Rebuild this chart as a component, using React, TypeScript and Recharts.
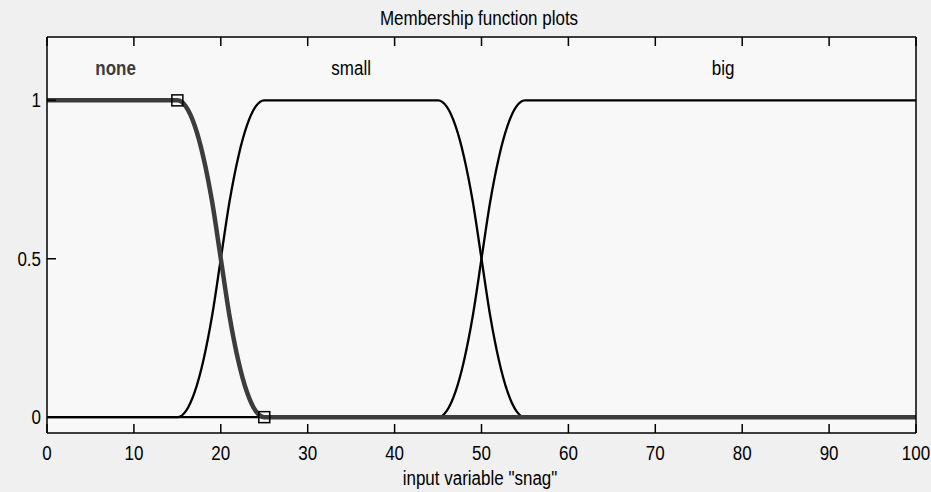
import { ComposedChart, Line, Scatter, XAxis, YAxis, CartesianGrid, ReferenceDot } from 'recharts'

// sample positions along "snag" and the membership degree
const xValues = [0, 15, 16, 17, 18, 19, 20, 21, 22, 23, 24, 25, 45, 46, 47, 48, 49, 50, 51, 52, 53, 54, 55, 100]
const noneValues = [1, 1, 0.98, 0.92, 0.82, 0.68, 0.5, 0.32, 0.18, 0.08, 0.02, 0, 0, 0, 0, 0, 0, 0, 0, 0, 0, 0, 0, 0]
const smallValues = [0, 0, 0.02, 0.08, 0.18, 0.32, 0.5, 0.68, 0.82, 0.92, 0.98, 1, 1, 0.98, 0.92, 0.82, 0.68, 0.5, 0.32, 0.18, 0.08, 0.02, 0, 0]
const bigValues = [0, 0, 0, 0, 0, 0, 0, 0, 0, 0, 0, 0, 0, 0.02, 0.08, 0.18, 0.32, 0.5, 0.68, 0.82, 0.92, 0.98, 1, 1]

// selected MF ("none") parameter handles
const handleX = [15, 25]
const handleY = [1, 0]

const mfNames = ['none', 'small', 'big']
const mfLabelX = [7.9, 35, 77.8]
const mfLabelY = 1.1

const xTicks = [0, 10, 20, 30, 40, 50, 60, 70, 80, 90, 100]
const yTicks = [0, 0.5, 1]

const data = xValues.map((x, i) => ({ x, none: noneValues[i], small: smallValues[i], big: bigValues[i] }))
const handles = handleX.map((x, i) => ({ x, y: handleY[i] }))

const FONT = '"Liberation Sans", Arial, Helvetica, sans-serif'

// matlab-ish text: a bit taller than wide
function Txt({ x, y, anchor = 'middle', fill = '#000', bold = false, children }: any) {
  return (
    <g transform={`translate(${x},${y}) scale(1,1.15)`}>
      <text x={0} y={0} textAnchor={anchor} fontSize={17} fontFamily={FONT} fill={fill} fontWeight={bold ? 'bold' : 'normal'}>
        {children}
      </text>
    </g>
  )
}

function BottomTick(props: any) {
  const { x, y, payload } = props
  return (
    <g>
      <line x1={x} x2={x} y1={y} y2={y - 9} stroke="#000" strokeWidth={1.5} />
      <Txt x={x} y={y + 27}>{payload.value}</Txt>
    </g>
  )
}

function TopTick(props: any) {
  const { x, y } = props
  return <line x1={x} x2={x} y1={y} y2={y + 9} stroke="#000" strokeWidth={1.5} />
}

function LeftTick(props: any) {
  const { x, y, payload } = props
  return (
    <g>
      <line x1={x} x2={x + 9} y1={y} y2={y} stroke="#000" strokeWidth={1.5} />
      <Txt x={x - 6} y={y + 7} anchor="end">{payload.value}</Txt>
    </g>
  )
}

function RightTick(props: any) {
  const { x, y } = props
  return <line x1={x} x2={x - 9} y1={y} y2={y} stroke="#000" strokeWidth={1.5} />
}

function Handle(props: any) {
  const { cx, cy } = props
  return <rect x={cx - 5.5} y={cy - 5.5} width={11} height={11} fill="none" stroke="#000" strokeWidth={1.5} />
}

function MfLabel(props: any) {
  const { viewBox, value, index } = props
  const cx = viewBox.x + (viewBox.width || 0) / 2
  const cy = viewBox.y + (viewBox.height || 0) / 2
  return (
    <Txt x={cx} y={cy + 6} fill={index === 0 ? '#3c3c3c' : '#000'} bold={index === 0}>
      {value}
    </Txt>
  )
}

export default function App() {
  return (
    <div style={{ position: 'absolute', left: 0, top: 0, width: 931, height: 492, background: '#f0f0f0' }}>
      <ComposedChart width={931} height={492} data={data} margin={{ top: 27, right: 5, bottom: 29, left: 7 }}>
        <CartesianGrid fill="#f8f8f8" horizontal={false} vertical={false} />
        <XAxis xAxisId="b" type="number" dataKey="x" domain={[0, 100]} ticks={xTicks} height={30}
          tickSize={0} tickMargin={0} tick={<BottomTick />} axisLine={{ stroke: '#000', strokeWidth: 1.5 }} />
        <XAxis xAxisId="t" orientation="top" type="number" dataKey="x" domain={[0, 100]} ticks={xTicks} height={10}
          tickSize={0} tickMargin={0} tick={<TopTick />} axisLine={{ stroke: '#000', strokeWidth: 1.5 }} />
        <YAxis yAxisId="l" type="number" domain={[-0.05, 1.2]} ticks={yTicks} width={40}
          tickSize={0} tickMargin={0} tick={<LeftTick />} axisLine={{ stroke: '#000', strokeWidth: 1.5 }} />
        <YAxis yAxisId="r" orientation="right" type="number" domain={[-0.05, 1.2]} ticks={yTicks} width={10}
          tickSize={0} tickMargin={0} tick={<RightTick />} axisLine={{ stroke: '#000', strokeWidth: 1.5 }} />
        <Line xAxisId="b" yAxisId="l" type="monotone" dataKey="small" stroke="#000" strokeWidth={2.3} dot={false} isAnimationActive={false} />
        <Line xAxisId="b" yAxisId="l" type="monotone" dataKey="big" stroke="#000" strokeWidth={2.3} dot={false} isAnimationActive={false} />
        <Line xAxisId="b" yAxisId="l" type="monotone" dataKey="none" stroke="#3c3c3c" strokeWidth={4.5} dot={false} isAnimationActive={false} />
        <Scatter xAxisId="b" yAxisId="l" data={handles} dataKey="y" shape={<Handle />} isAnimationActive={false} />
        {mfNames.map((name, i) => (
          <ReferenceDot key={name} xAxisId="b" yAxisId="l" x={mfLabelX[i]} y={mfLabelY} r={0}
            label={<MfLabel value={name} index={i} />} />
        ))}
      </ComposedChart>
      <svg width={931} height={492} style={{ position: 'absolute', left: 0, top: 0, pointerEvents: 'none' }}>
        <Txt x={479} y={25}>Membership function plots</Txt>
        <Txt x={480} y={485}>input variable "snag"</Txt>
      </svg>
    </div>
  )
}
